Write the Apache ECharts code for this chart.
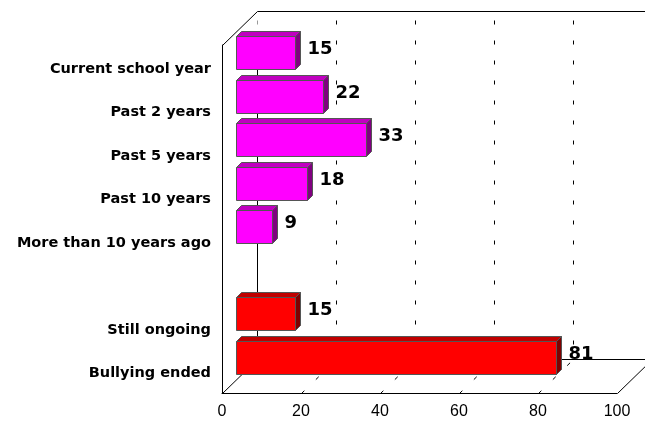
<!DOCTYPE html>
<html><head><meta charset="utf-8">
<style>html,body{margin:0;padding:0;background:#fff}#c{width:645px;height:422px}</style>
<script src="https://cdn.jsdelivr.net/npm/echarts@6/dist/echarts.min.js"></script>
</head><body><div id="c"></div>
<script>
const categories = ['Current school year','Past 2 years','Past 5 years','Past 10 years','More than 10 years ago',' ','Still ongoing','Bullying ended'];
const values = [15,22,33,18,9,null,15,81];
const groupColor = ['m','m','m','m','m',null,'r','r'];
const ticks = [0,20,40,60,80,100];
const palette = {m:{front:'#ff00ff',top:'#c000c0',side:'#800080',edge:'#555555'},
                 r:{front:'#ff0000',top:'#c00000',side:'#800000',edge:'#555555'}};
const DX=35, DY=34, BX=15, BY=14, D=5;
const chart = echarts.init(document.getElementById('c'),null,{renderer:'canvas'});
function line(x1,y1,x2,y2,dash,color){
  return {type:'line',shape:{x1:x1,y1:y1,x2:x2,y2:y2},
    style:{stroke:color||'#000',lineWidth:1,lineDash:dash||null,fill:null}};
}
function wallItem(params,api){
  const v=api.value(0), cs=params.coordSys;
  const x=Math.round(api.coord([v,categories[0]])[0])+0.5;
  const top=cs.y+0.5, bot=cs.y+cs.height+0.5;
  const kids=[];
  const edge = v===ticks[0]||v===ticks[ticks.length-1];
  kids.push(line(x,bot,x+DX,bot-DY,edge?null:[4,16]));
  if(v===ticks[0]){
    kids.push(line(x,top,x+DX,top-DY));
    kids.push(line(x+DX,top-25,x+DX,top-14,[4,16],'#999'));
    kids.push(line(x+DX,top-14,x+DX,bot-DY));
    kids.push(line(x+DX,top-DY,650,top-DY));
    kids.push(line(x+DX,bot-DY,650,bot-DY));
  } else if(v!==ticks[ticks.length-1]){
    kids.push(line(x+DX,top-25,x+DX,bot-DY,[4,16]));
  }
  return {type:'group',children:kids};
}
function barItem(params,api){
  const i=params.dataIndex, v=values[i];
  if(v==null) return null;
  const c=palette[groupColor[i]];
  const p0=api.coord([0,categories[i]]), p1=api.coord([v,categories[i]]);
  const h=Math.round(api.size([0,1])[1]*0.75);
  const x0=Math.round(p0[0])+BX-0.5, x1=Math.round(p1[0])+BX-0.5;
  const y0=Math.round(p0[1]-BY-h/2)+0.5, y1=y0+h;
  const edge={stroke:c.edge,lineWidth:1};
  return {type:'group',children:[
    {type:'polygon',shape:{points:[[x0,y0],[x0+D,y0-D],[x1+D,y0-D],[x1,y0]]},style:Object.assign({fill:c.top},edge)},
    {type:'polygon',shape:{points:[[x1,y0],[x1+D,y0-D],[x1+D,y1-D],[x1,y1]]},style:Object.assign({fill:c.side},edge)},
    {type:'rect',shape:{x:x0,y:y0,width:x1-x0,height:h},style:Object.assign({fill:c.front},edge)},
    {type:'text',x:x1+12,y:y0+h/2-4,style:{text:String(v),fill:'#000',
      font:'bold 18px "DejaVu Sans"',textAlign:'left',textVerticalAlign:'middle'}}
  ]};
}
chart.setOption({
  animation:false,
  backgroundColor:'#fff',
  grid:{left:222,right:28,top:45,bottom:29,containLabel:false},
  xAxis:{type:'value',min:0,max:100,interval:20,
    axisLine:{show:true,lineStyle:{color:'#000',width:1}},
    axisTick:{show:false},splitLine:{show:false},
    axisLabel:{color:'#000',fontFamily:'Liberation Sans',fontSize:16,margin:11,
      showMinLabel:true,showMaxLabel:true,hideOverlap:false}},
  yAxis:{type:'category',inverse:true,data:categories,
    axisLine:{show:true,onZero:false,lineStyle:{color:'#000',width:1}},
    axisTick:{show:false},splitLine:{show:false},
    axisLabel:{color:'#000',fontFamily:'DejaVu Sans',fontWeight:'bold',fontSize:14.5,margin:11,interval:0,verticalAlign:'top',lineHeight:4}},
  series:[
    {type:'custom',silent:true,data:ticks.map(t=>[t]),encode:{x:0},renderItem:wallItem,z:1},
    {type:'custom',silent:true,data:values.map((v,i)=>[v,categories[i]]),encode:{x:0,y:1},renderItem:barItem,z:2}
  ]
});
</script></body></html>
